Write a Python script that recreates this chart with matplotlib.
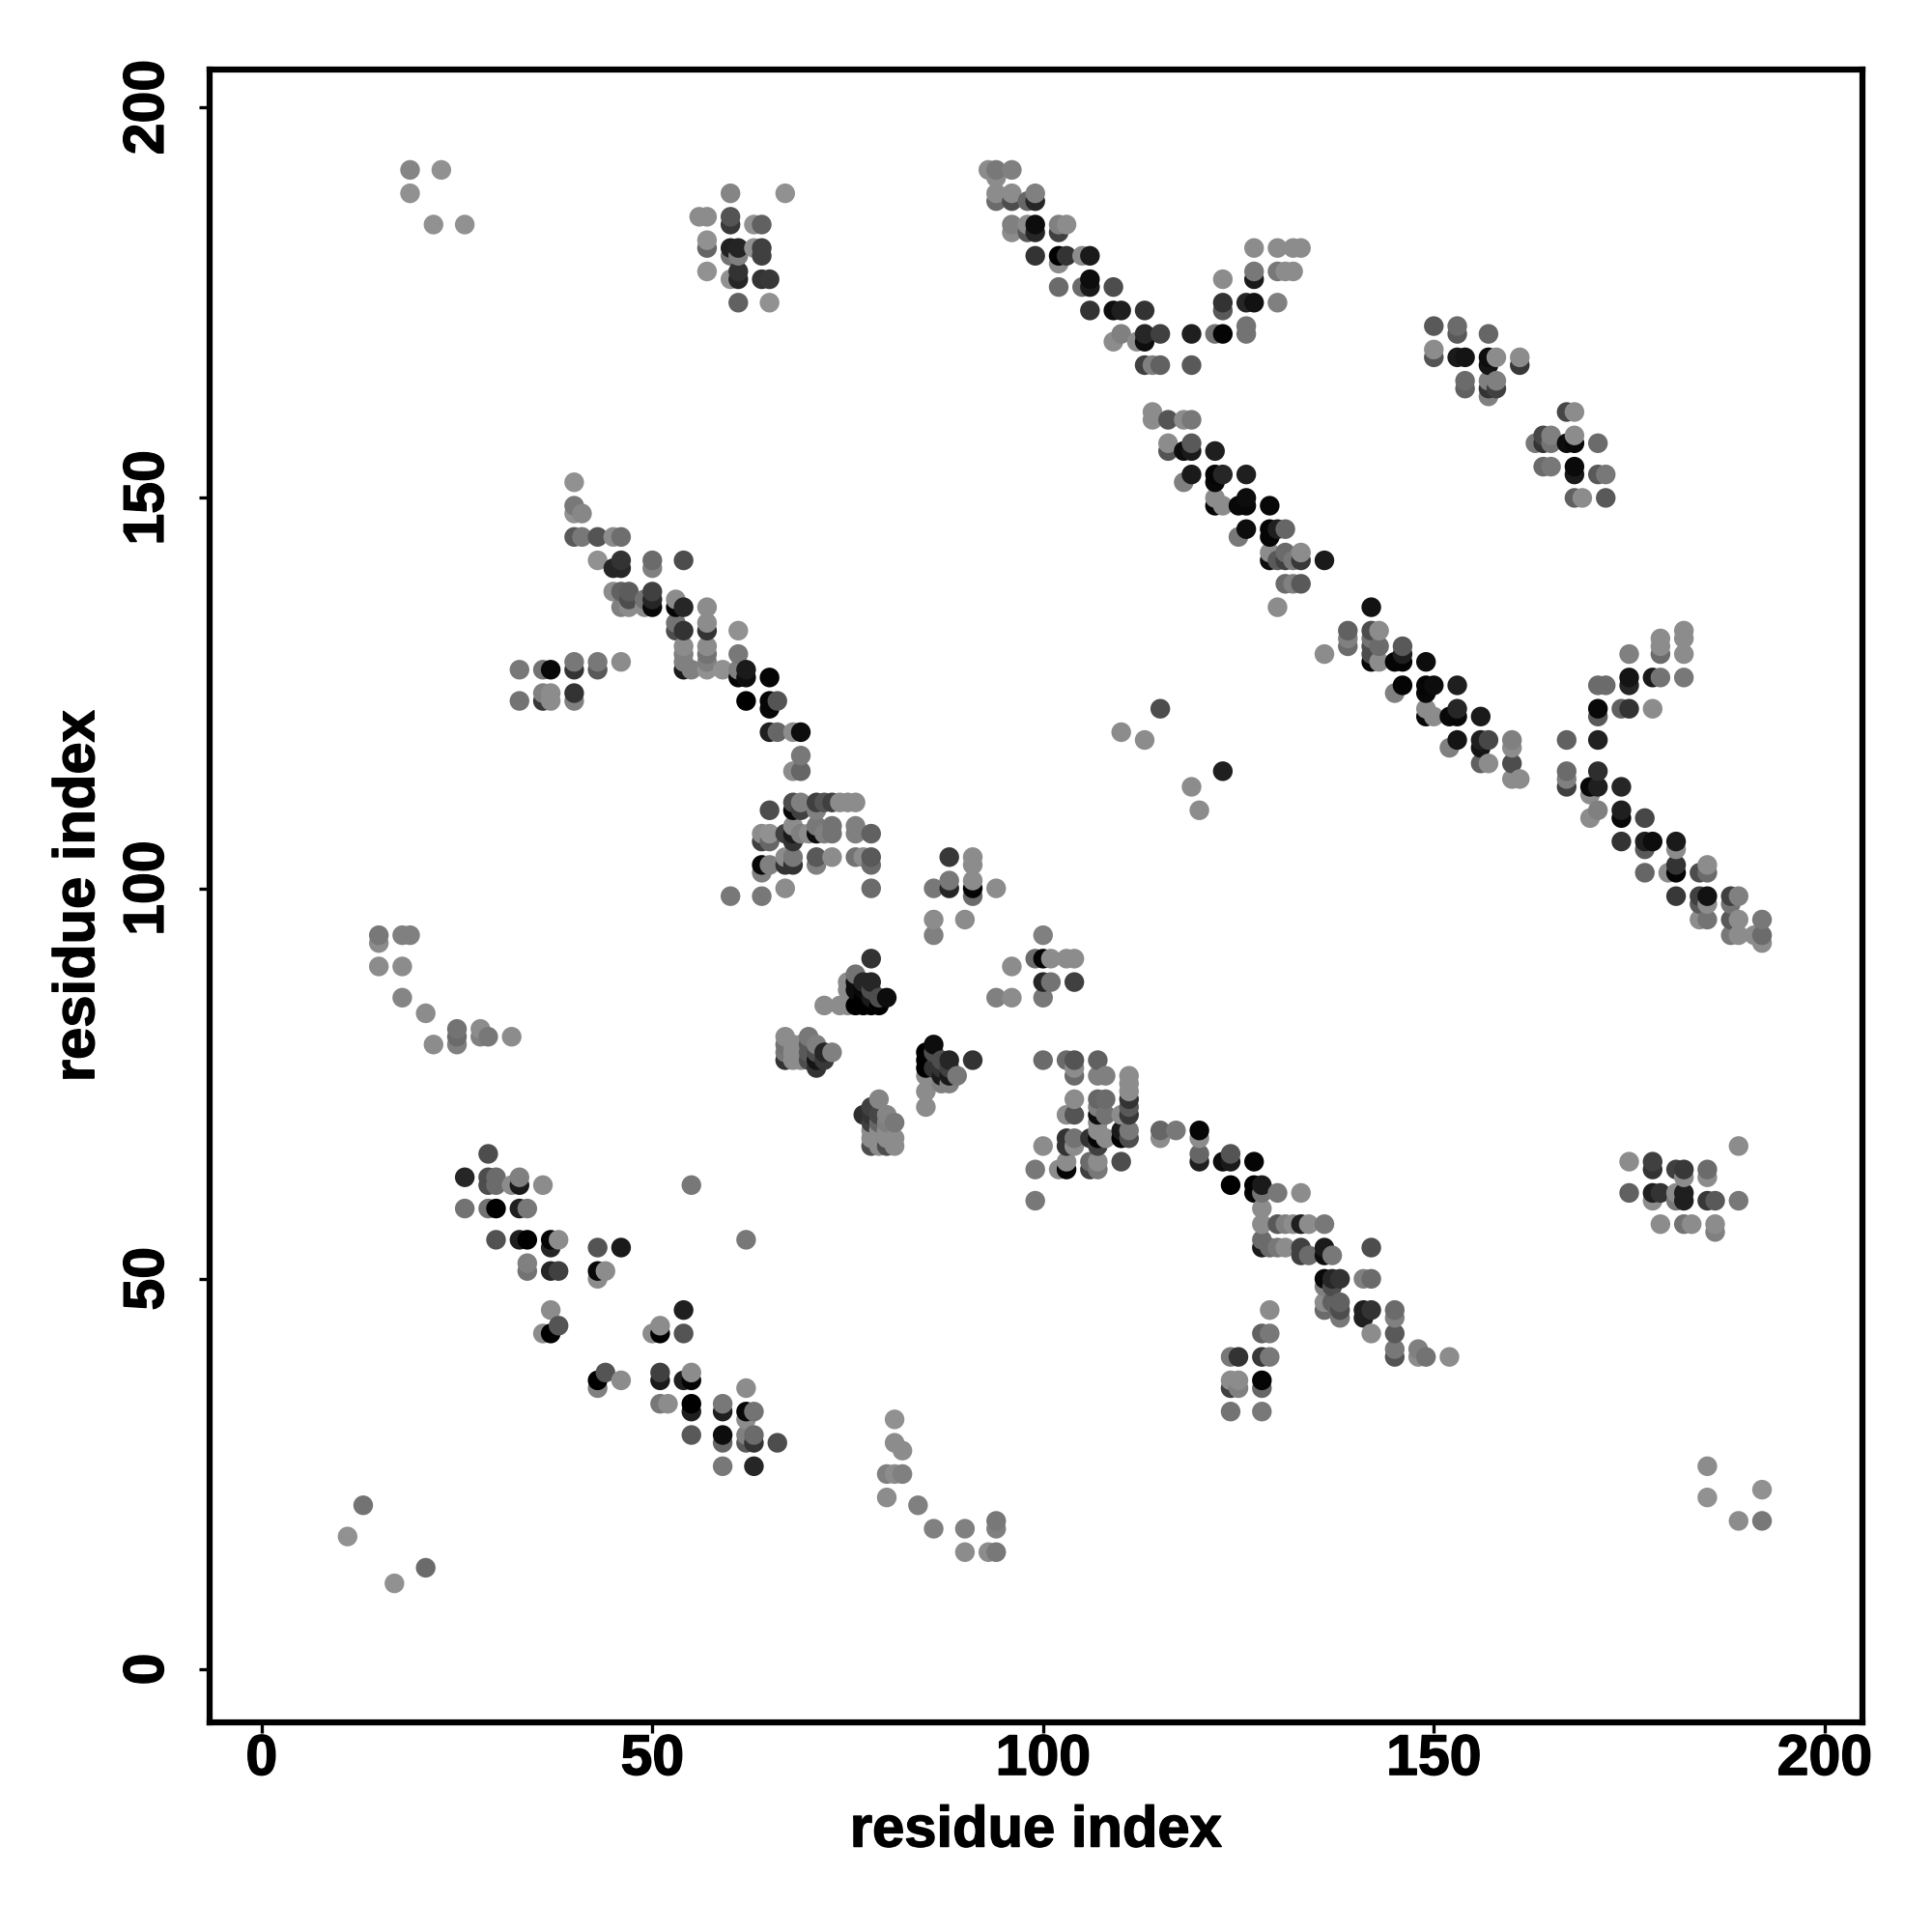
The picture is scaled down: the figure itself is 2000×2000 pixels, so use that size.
import numpy as np
import matplotlib as mpl
import matplotlib.pyplot as plt
import matplotlib.patheffects as pe

mpl.rcParams['font.family'] = 'Liberation Sans'
mpl.rcParams['font.weight'] = 'bold'
mpl.rcParams['font.size'] = 42.5

# (residue x, residue y, grey level)
corner_tl = [(19,192,.52),(23,192,.57),(19,189,.57),(22,185,.57),(26,185,.57)]
block_60 = [(60,189,.52),(67,189,.57),(56,186,.55),(57,186,.55),(60,186,.33),(60,185,.22),(63,185,.57),(64,185,.38),
    (57,183,.57),(57,182,.4),(60,182,.13),(61,182,.14),(60,181,.45),(61,181,.5),(63,182,.57),(64,182,.25),(64,181,.25),
    (57,179,.57),(60,178,.57),(61,179,.2),(61,178,.15),(64,178,.2),(65,178,.22),(61,175,.38),(65,175,.57)]
strand_40 = [(40,152,.57),(40,149,.47),(40,148,.57),(41,148,.53),(40,145,.35),(41,145,.47),(43,145,.33),(45,145,.55),(46,145,.43),
    (43,142,.57),(46,142,.2),(45,141,.15),(46,141,.15),(50,142,.42),(50,141,.5),(54,142,.3),
    (45,138,.55),(46,138,.38),(47,138,.36),(46,136,.5),(47,137,.3),(47,136,.55),(49,137,.45),(49,136,.55),(50,138,.25),(50,137,.15),(50,136,.03),
    (53,137,.55),(53,136,.02),(54,136,.15),(57,136,.55),(53,134,.45),(54,133,.2),(53,133,.3),(57,134,.55),(57,133,.2),(61,133,.57)]
strand_54 = [(54,131,.55),(57,131,.55),(61,130,.47),(54,130,.5),(57,130,.45),(54,129,.5),(57,129,.5),
    (54,128,.1),(55,128,.5),(57,128,.57),(59,128,.57),(61,128,.5),(62,128,.1),(61,127,.02),(62,127,.05),(65,127,.02),
    (62,124,.0),(65,124,.02),(66,124,.33),(65,123,.03),(65,120,.12),(66,120,.4),(68,120,.55),(69,120,.05),
    (69,117,.47),(68,115,.55),(69,115,.4)]
block_70 = [(65,110,.3),(68,111,.3),(69,111,.5),(71,111,.25),(72,111,.33),(73,111,.25),(74,111,.55),(75,111,.55),(76,111,.55),
    (68,110,.03),(69,110,.25),(71,110,.5),(68,108,.55),(71,108,.47),(73,108,.45),(76,108,.5),
    (64,107,.55),(65,107,.57),(67,107,.25),(68,107,.1),(69,107,.5),(70,107,.55),(71,107,.05),(72,107,.5),(73,107,.45),(76,107,.5),(78,107,.38),
    (64,106,.25),(65,106,.4),(68,106,.2),(67,104,.55),(68,104,.47),(71,104,.35),(73,104,.55),(76,104,.45),(77,104,.55),(78,104,.35),
    (64,103,.03),(65,103,.5),(67,103,.2),(68,103,.2),(71,103,.5),(78,103,.42),(64,102,.5),(67,100,.55),(78,100,.42),(60,99,.47),(64,99,.47)]
left_128 = [(33,128,.47),(36,128,.45),(37,128,.03),(40,129,.47),(40,128,.2),(43,129,.47),(43,128,.35),(46,129,.55),
    (33,124,.45),(36,125,.5),(36,124,.22),(37,125,.55),(37,124,.55),(40,125,.2),(40,124,.5)]
knot_85 = [(78,91,.2),(76,89,.45),(75,88,.55),(75,87,.55),(76,88,.05),(77,88,.15),(78,88,.15),(76,87,.05),(77,87,.03),(78,87,.3),
    (77,86,.0),(78,86,.1),(79,86,.3),(80,86,.05),(72,85,.55),(74,85,.55),(75,85,.55),(76,85,.0),(77,85,.0),(78,85,.0),(79,85,.0)]
top_88 = [(88,104,.22),(91,104,.55),(91,103,.55),(88,101,.47),(88,100,.15),(86,100,.47),(91,101,.55),(91,100,.02),(91,99,.42),(94,100,.55),
    (86,96,.55),(90,96,.55),(86,94,.5),(100,94,.5),(96,90,.55),(99,91,.42),(100,91,.02),(101,91,.55),(103,91,.55),(104,91,.55),
    (100,88,.15),(101,88,.45),(104,88,.25),(94,86,.5),(96,86,.55),(100,86,.47)]
knot_70 = [(67,78,.2),(67,79,.47),(67,80,.45),(67,81,.55),(68,78,.55),(68,79,.55),(68,80,.55),(69,78,.55),(69,79,.55),(69,80,.55),
    (70,78,.3),(70,79,.35),(70,80,.35),(70,81,.47),(71,77,.2),(71,78,.08),(71,79,.3),(71,80,.5),(72,78,.22),(72,79,.15),(73,79,.5)]
knot_78 = [(86,80,.05),(85,79,.0),(85,78,.0),(85,77,.0),(85,76,.55),(85,74,.55),(85,72,.55),(88,78,.15),(91,78,.2),(89,76,.47),
    (88,76,.1),(88,75,.5),(87,75,.5),(86,77,.2),(86,79,.3),(87,78,.3),(87,77,.2),(87,76,.1),(88,77,.25)]
knot_68 = [(79,73,.52),(78,72,.25),(77,71,.18),(78,71,.2),(79,71,.28),(80,71,.52),(78,70,.25),(79,70,.4),(80,70,.5),(81,70,.47),
    (78,69,.55),(79,69,.55),(80,69,.55),(78,68,.55),(79,68,.55),(80,68,.55),(81,68,.55),(78,67,.3),(79,67,.55),(80,67,.3),(81,67,.55)]
block_105 = [(100,78,.42),(103,78,.42),(104,78,.33),(107,78,.38),(104,77,.55),(104,76,.42),(107,76,.5),(108,76,.5),
    (111,76,.55),(111,75,.55),(111,74,.55),(111,73,.2),(111,72,.35),(111,71,.22),(111,69,.47),(111,68,.3),
    (104,73,.55),(107,73,.4),(108,73,.42),(107,72,.5),(103,71,.55),(104,71,.33),(107,71,.05),(108,71,.45),(110,71,.55),(107,70,.55),(107,69,.55),
    (110,69,.1),(103,68,.2),(104,68,.45),(106,68,.2),(107,68,.02),(108,68,.55),(110,68,.0),(103,67,.2),(104,67,.55),(107,67,.25),
    (100,67,.55),(99,64,.47),(102,64,.55),(103,64,.02),(103,65,.55),(106,65,.42),(107,65,.55),(106,64,.25),(107,64,.47),(110,65,.3),(99,60,.47)]
strand_120 = [(115,69,.4),(117,69,.47),(115,68,.55),(120,69,.02),(120,68,.55),(120,66,.4),(120,65,.12),(124,66,.33),(123,65,.05),(124,65,.1),(127,65,.02),
    (124,62,.0),(127,62,.0),(128,62,.1),(127,61,.02),(128,61,.45),(130,61,.47),(133,61,.55),(128,59,.55),(128,57,.55),(130,57,.35),(131,57,.5),(132,57,.55),
    (133,57,.12),(134,57,.55),(136,57,.47),(128,55,.42),(128,54,.1),(129,54,.42),(130,54,.47),(131,54,.55),(133,54,.25),(133,53,.25),(134,53,.42),
    (136,54,.1),(136,53,.05),(137,53,.47),(142,54,.3),(136,50,.03),(137,50,.15),(138,50,.2),(141,50,.5),(142,50,.42),(136,49,.5),(137,49,.3),
    (136,46,.42),(136,47,.55),(137,47,.38),(138,47,.38),(138,46,.3),(138,45,.47),(141,46,.12),(142,46,.2),(141,45,.12),(145,46,.42),(145,45,.5),
    (142,43,.55),(145,43,.35),(145,41,.47),(145,40,.33),(148,41,.5),(148,40,.55),(149,40,.45),(152,40,.55)]
block_126 = [(129,46,.55),(128,43,.38),(129,43,.47),(124,40,.47),(125,40,.2),(128,40,.22),(129,40,.47),(124,37,.55),(125,37,.55),(124,36,.25),(125,36,.5),
    (128,37,.02),(128,36,.4),(124,33,.45),(128,33,.47)]
strand_94 = [(93,192,.55),(94,192,.47),(94,191,.55),(96,192,.5),(94,189,.55),(94,188,.42),(96,189,.55),(96,188,.3),(98,188,.4),(99,189,.5),(99,188,.15),
    (96,185,.5),(96,184,.55),(98,185,.55),(98,184,.35),(99,185,.05),(99,184,.15),(102,185,.5),(102,184,.25),(103,185,.55),
    (99,181,.2),(102,181,.0),(103,181,.2),(102,180,.55),(105,181,.55),(106,181,.1),(102,177,.42),(105,177,.42),(106,178,.05),(106,177,.1),(109,177,.3),
    (106,174,.2),(109,174,.05),(110,174,.12),(113,174,.2),(110,171,.5),(109,170,.55),(112,170,.55),(113,171,.15),(113,170,.05),(115,171,.25),(119,171,.12),
    (122,171,.45),(123,171,.02),(126,172,.45),(126,171,.45),(113,167,.25),(114,167,.5),(115,167,.38),(119,167,.35),
    (123,175,.2),(123,174,.35),(126,175,.15),(127,175,.07),(130,175,.5),(123,178,.55),(127,182,.55),(127,179,.47),(127,178,.1),
    (130,182,.55),(132,182,.55),(133,182,.55),(130,179,.47),(131,179,.55),(132,179,.55)]
strand_120b = [(114,161,.55),(114,160,.55),(116,160,.33),(118,160,.55),(119,160,.47),(116,157,.55),(116,156,.33),(118,156,.05),(119,157,.35),(119,156,.1),(122,156,.12),
    (119,153,.1),(118,152,.5),(122,153,.02),(122,152,.03),(123,153,.15),(126,153,.12),(122,150,.55),(123,149,.55),(122,149,.02),(125,149,.03),(126,150,.05),(126,149,.03),(129,149,.03),
    (126,146,.05),(125,145,.47),(129,146,.02),(129,145,.02),(130,146,.12),(131,146,.4),(129,143,.55),(131,143,.42),(129,142,.05),(130,142,.35),(131,142,.25),(132,142,.47),
    (133,143,.55),(133,142,.22),(136,142,.1),(131,139,.42),(132,139,.5),(133,139,.35),(130,136,.55)]
block_155 = [(150,172,.35),(153,172,.42),(153,171,.35),(157,171,.4),(150,169,.55),(150,168,.33),(153,168,.1),(154,168,.08),(157,168,.05),(157,167,.08),(158,168,.55),
    (161,168,.55),(161,167,.22),(154,165,.42),(154,164,.38),(157,165,.5),(158,165,.5),(157,164,.2),(158,164,.25),(157,163,.5)]
block_167 = [(167,161,.28),(168,161,.55),(163,157,.47),(164,158,.28),(164,157,.2),(165,158,.5),(165,157,.45),(168,158,.55),(167,157,.05),(168,157,.03),(171,157,.42),
    (164,154,.42),(165,154,.47),(168,154,.04),(168,153,.1),(171,153,.35),(172,153,.47),(168,150,.38),(169,150,.55),(172,150,.35)]
strand_145 = [(142,136,.07),(139,133,.38),(139,132,.5),(139,131,.42),(142,133,.3),(143,133,.55),(142,132,.45),(142,131,.3),(143,131,.42),(142,130,.3),(142,129,.03),(143,129,.55),(136,130,.55),
    (146,131,.35),(146,130,.12),(145,129,.02),(146,129,.02),(149,129,.05),(146,126,.02),(145,125,.5),(149,126,.02),(149,125,.03),(150,126,.05),(153,126,.12),
    (149,123,.55),(150,122,.55),(149,122,.03),(152,122,.03),(153,123,.15),(153,122,.03),(156,122,.1),(153,119,.08),(152,118,.5),(156,119,.12),(156,118,.08),(157,119,.28),
    (160,119,.5),(160,118,.55),(160,116,.3),(156,116,.38),(157,116,.55),(160,114,.55),(161,114,.55)]
strand_170 = [(167,119,.38),(171,119,.13),(167,115,.42),(167,114,.5),(167,113,.25),(171,115,.18),(170,113,.03),(171,113,.12),(170,112,.55),(174,113,.15),
    (171,110,.5),(170,109,.55),(174,110,.12),(174,109,.03),(177,109,.28),(174,106,.2),(177,106,.12),(178,106,.05),(177,105,.35),(181,106,.1),(181,105,.55),
    (177,102,.4),(180,102,.55),(181,103,.2),(181,102,.02),(184,102,.3),(185,103,.55),(185,102,.42),(181,99,.22),(184,99,.25),(184,98,.35),(185,99,.07),(185,98,.55),
    (188,99,.25),(189,99,.5),(188,98,.45),(184,96,.55),(185,96,.45),(188,96,.35),(189,96,.55),(188,94,.47),(189,94,.55),(191,94,.55),(192,96,.47),(192,94,.42),(192,93,.55)]
branch_175 = [(175,130,.5),(179,132,.55),(179,131,.55),(179,130,.42),(182,133,.55),(182,132,.55),(182,130,.55),(182,127,.47),(175,127,.08),(175,126,.15),(171,126,.42),(172,126,.42),
    (178,127,.1),(179,127,.45),(171,123,.03),(171,122,.35),(174,123,.38),(175,123,.2),(178,123,.55)]
tail_15 = [(15,94,.47),(15,93,.55),(18,94,.5),(19,94,.5),(15,90,.55),(18,90,.55),(18,86,.52),(21,84,.55),(22,80,.55),(25,82,.45),(25,81,.42),(25,80,.5),(28,82,.55),(28,81,.5),(29,81,.47),(32,81,.55)]
strand_30 = [(29,66,.3),(26,63,.15),(29,63,.3),(30,63,.42),(29,62,.3),(30,62,.42),(32,62,.55),(33,63,.5),(33,62,.1),(36,62,.55),(26,59,.45),(29,59,.45),(30,59,.0),(33,59,.12),(34,59,.47),
    (30,55,.32),(33,55,.12),(34,55,.0),(37,55,.02),(38,55,.55),(37,54,.15),(43,54,.33),(46,54,.1),(55,62,.47),(62,55,.47),(34,52,.5),(34,51,.45),(37,51,.15),(38,51,.25),(43,51,.03),(44,51,.55),(43,50,.55),
    (37,46,.55),(38,44,.33),(36,43,.55),(37,43,.0),(54,46,.12),(51,44,.55),(50,43,.55),(51,43,.0),(54,43,.33)]
strand_50 = [(43,37,.0),(44,38,.33),(43,36,.5),(46,37,.55),(51,38,.25),(51,37,.1),(54,37,.12),(55,38,.55),(55,37,.02),(51,34,.47),(52,34,.55),(55,34,.0),(55,33,.12),
    (59,34,.47),(59,33,.12),(62,36,.55),(62,33,.03),(63,33,.45),(62,32,.55),(55,30,.35),(59,30,.05),(59,29,.4),(62,30,.5),(63,30,.42),(62,29,.35),(63,29,.2),(66,29,.3),(59,26,.47),(63,26,.15)]
corner_bl = [(13,21,.45),(11,17,.57),(17,11,.57),(21,13,.42)]
tail_85 = [(81,32,.57),(81,29,.55),(82,28,.55),(80,25,.5),(81,25,.55),(82,25,.5),(80,22,.55),(84,21,.5),(86,18,.5),(90,18,.5),(94,19,.47),(94,18,.5),(90,15,.55),(93,15,.55),(94,15,.47)]
corner_br = [(185,26,.55),(185,22,.57),(189,19,.55),(192,23,.57),(192,19,.47)]
middle = [(110,120,.55),(113,119,.55),(115,123,.3),(119,113,.55),(120,110,.55),(123,115,.12)]
block_180 = [(175,65,.55),(178,65,.25),(178,64,.2),(181,64,.25),(182,64,.22),(182,63,.55),(185,64,.42),(185,63,.55),(189,67,.55),(175,61,.38),(178,61,.12),(179,61,.2),(178,60,.55),
    (181,61,.55),(181,60,.47),(182,61,.12),(182,60,.12),(185,60,.22),(186,60,.35),(189,60,.47),(179,57,.55),(182,57,.45),(183,57,.55),(186,57,.55),(186,56,.5)]

all_groups = [corner_tl, block_60, strand_40, strand_54, block_70, left_128, knot_85, top_88, knot_70, knot_78, knot_68,
              block_105, strand_120, block_126, strand_94, strand_120b, block_155, block_167, strand_145, strand_170,
              branch_175, tail_15, strand_30, strand_50, corner_bl, tail_85, corner_br, middle, block_180]

pts = np.array([p for g in all_groups for p in g])
# later points sit on top: x ascending, then y ascending
pts = pts[np.lexsort((pts[:, 1], pts[:, 0]))]

ticks = [0, 50, 100, 150, 200]
heavy = [pe.withStroke(linewidth=1.0, foreground='black')]

fig = plt.figure(figsize=(20, 20), dpi=100)
ax = fig.add_axes([217/2000, 1 - 1783/2000, (1928-217)/2000, (1783-72)/2000])
ax.scatter(pts[:, 0], pts[:, 1], s=215, c=[str(v) for v in pts[:, 2]], linewidths=0, clip_on=False)
ax.set_xlim(-6.65, 204.85)
ax.set_ylim(-6.8, 204.85)
ax.set_xticks(ticks)
ax.set_yticks(ticks)
ax.tick_params(axis='x', length=8, width=2.4, pad=0)
ax.tick_params(axis='y', length=8, width=2.4, pad=18)
plt.setp(ax.get_yticklabels(), rotation=90, va='center', path_effects=heavy)
plt.setp(ax.get_xticklabels(), path_effects=heavy)
for s in ax.spines.values():
    s.set_linewidth(4.5)
ax.set_xlabel('residue index', fontsize=43, fontweight='bold', labelpad=14, path_effects=heavy)
ax.set_ylabel('residue index', fontsize=43, fontweight='bold', labelpad=12, path_effects=heavy)
fig.savefig('out.png', dpi=100)
